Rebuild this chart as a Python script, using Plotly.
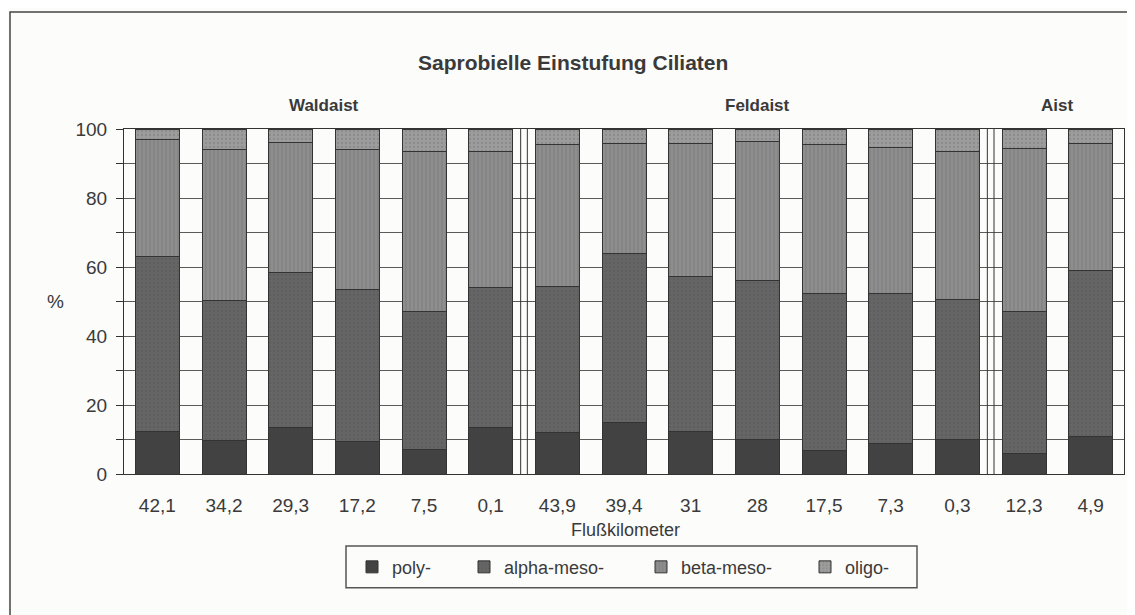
import plotly.graph_objects as go

# Flußkilometer stations (Waldaist, Feldaist, Aist)
km_labels = ['42,1', '34,2', '29,3', '17,2', '7,5', '0,1',
             '43,9', '39,4', '31', '28', '17,5', '7,3', '0,3',
             '12,3', '4,9']

poly = [12.4, 9.7, 13.6, 9.4, 7.1, 13.5, 12.1, 15.0, 12.4, 10.1, 6.8, 8.7, 9.9, 5.8, 10.8]
alpha_meso = [50.7, 40.5, 44.7, 44.0, 39.9, 40.6, 42.2, 48.8, 44.9, 45.9, 45.4, 43.5, 40.8, 41.3, 48.3]
beta_meso = [33.9, 43.8, 37.7, 40.8, 46.5, 39.4, 41.1, 32.1, 38.4, 40.3, 43.3, 42.3, 42.8, 47.3, 36.6]
oligo = [3.0, 6.0, 4.0, 5.8, 6.5, 6.5, 4.6, 4.1, 4.3, 3.7, 4.5, 5.5, 6.5, 5.6, 4.3]

rivers = ['Waldaist', 'Feldaist', 'Aist']
river_pos = [2.5, 9.0, 13.5]
river_breaks = [5.5, 12.5]

FONT = 'Liberation Sans, Arial, sans-serif'
TEXT_COLOUR = '#3a3a3a'
EDGE_COLOUR = '#333333'

x_pos = list(range(len(km_labels)))

# name, values, colour, pattern, pattern colour, legend id, legend x (paper)
series = [
    ('poly-', poly, '#424242', '', '#424242', 'legend', 0.228),
    ('alpha-meso-', alpha_meso, '#656565', '.', '#555555', 'legend2', 0.340),
    ('beta-meso-', beta_meso, '#8e8e8e', '|', '#6c6c6c', 'legend3', 0.517),
    ('oligo-', oligo, '#9c9c9c', '.', '#7a7a7a', 'legend4', 0.681),
]

fig = go.Figure()
for name, vals, colour, shape, fg, leg, _ in series:
    fig.add_trace(go.Bar(
        x=x_pos, y=vals, name=name, width=0.66, legend=leg, showlegend=True,
        marker={'color': colour,
                'line': {'color': EDGE_COLOUR, 'width': 1},
                'pattern': {'shape': shape, 'fgcolor': fg, 'size': 4, 'solidity': 0.25}},
    ))

fig.update_layout(
    barmode='stack',
    showlegend=True,
    width=1127, height=607,
    margin={'l': 116, 'r': 11, 't': 121, 'b': 141},
    paper_bgcolor='#fcfcfa',
    plot_bgcolor='#fcfcfa',
    font={'family': FONT, 'color': TEXT_COLOUR, 'size': 19},
)
# one legend per item so the entries sit where they do in the original
for name, _, _, _, _, leg, lx in series:
    fig.update_layout({leg: {'x': lx, 'xanchor': 'left', 'y': -0.27, 'yanchor': 'middle',
                             'bgcolor': 'rgba(0,0,0,0)', 'borderwidth': 0, 'visible': True,
                             'font': {'size': 18}}})

fig.update_xaxes(
    range=[-0.5, len(km_labels) - 0.5],
    tickvals=x_pos, ticktext=km_labels,
    showgrid=False, zeroline=False,
    showline=True, linecolor=EDGE_COLOUR, linewidth=1, mirror=True,
    ticks='', ticklabelstandoff=14,
)
fig.update_yaxes(
    range=[0, 100],
    tickvals=[0, 20, 40, 60, 80, 100],
    showgrid=True, gridcolor='#5a5a5a', gridwidth=1,
    minor={'dtick': 10, 'showgrid': True, 'gridcolor': '#5a5a5a', 'gridwidth': 1,
           'ticks': 'outside', 'ticklen': 7, 'tickcolor': EDGE_COLOUR},
    zeroline=False,
    showline=True, linecolor=EDGE_COLOUR, linewidth=1, mirror=True,
    ticks='outside', ticklen=7, tickcolor=EDGE_COLOUR, ticklabelstandoff=5,
)

# separators between the rivers
for xb in river_breaks:
    for dx in (-0.05, 0.05):
        fig.add_shape(type='line', xref='x', yref='y', x0=xb + dx, x1=xb + dx, y0=0, y1=100,
                      line={'color': EDGE_COLOUR, 'width': 1})

for name, xp in zip(rivers, river_pos):
    fig.add_annotation(x=xp, xref='x', y=1.067, yref='paper', text=f'<b>{name}</b>',
                       xanchor='center', yanchor='middle', showarrow=False, font={'size': 17})

fig.add_annotation(x=0.449, xref='paper', y=1.194, yref='paper',
                   text='<b>Saprobielle Einstufung Ciliaten</b>',
                   xanchor='center', yanchor='middle', showarrow=False, font={'size': 21})
fig.add_annotation(x=-0.069, xref='paper', y=0.501, yref='paper', text='%',
                   xanchor='center', yanchor='middle', showarrow=False, font={'size': 19})
fig.add_annotation(x=0.501, xref='paper', y=-0.162, yref='paper', text='Flußkilometer',
                   xanchor='center', yanchor='middle', showarrow=False, font={'size': 18})

# legend frame
fig.add_shape(type='rect', xref='paper', yref='paper', x0=0.222, x1=0.793, y0=-0.330, y1=-0.209,
              line={'color': '#555555', 'width': 1.5})
# outer frame of the chart
fig.add_shape(type='rect', xref='paper', yref='paper', x0=-0.114, x1=1.010, y0=-0.5, y1=1.339,
              line={'color': '#444444', 'width': 1.5})

fig.write_html('out.html')
